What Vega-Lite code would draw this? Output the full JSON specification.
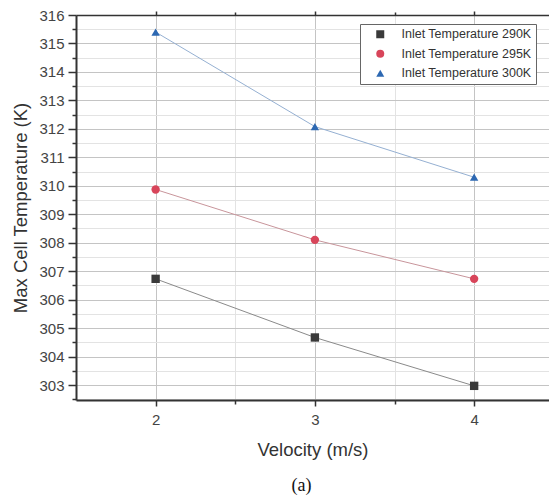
{
  "$schema": "https://vega.github.io/schema/vega-lite/v6.json",
  "width": 473,
  "height": 385,
  "autosize": {"type": "none"},
  "padding": {"left": 76, "top": 15, "right": 0, "bottom": 102},
  "background": "white",
  "title": {"text": "(a)", "orient": "bottom", "anchor": "middle", "font": "Liberation Serif", "fontSize": 18, "fontWeight": "normal", "color": "#111", "offset": 18, "dx": -11},
  "config": {
    "view": {"stroke": null},
    "axis": {
      "domainColor": "#333", "domainWidth": 2, "tickColor": "#333", "tickWidth": 1.5,
      "labelOverlap": false, "tickCount": 60, "tickMinStep": 0.5,
      "labelFont": "Liberation Sans", "labelFontSize": 15, "labelColor": "#444",
      "titleFont": "Liberation Sans", "titleFontSize": 18.5, "titleFontWeight": "normal", "titleColor": "#333"
    }
  },
  "data": {"values": [
    {"series": "Inlet Temperature 290K", "velocity": 2, "temp": 306.73},
    {"series": "Inlet Temperature 290K", "velocity": 3, "temp": 304.67},
    {"series": "Inlet Temperature 290K", "velocity": 4, "temp": 302.97},
    {"series": "Inlet Temperature 295K", "velocity": 2, "temp": 309.87},
    {"series": "Inlet Temperature 295K", "velocity": 3, "temp": 308.1},
    {"series": "Inlet Temperature 295K", "velocity": 4, "temp": 306.73},
    {"series": "Inlet Temperature 300K", "velocity": 2, "temp": 315.4},
    {"series": "Inlet Temperature 300K", "velocity": 3, "temp": 312.08},
    {"series": "Inlet Temperature 300K", "velocity": 4, "temp": 310.3}
  ]},
  "resolve": {"axis": {"x": "independent"}},
  "layer": [
    {
      "mark": {"type": "line", "strokeWidth": 1},
      "encoding": {
        "x": {"field": "velocity", "type": "quantitative",
          "scale": {"domain": [1.5, 4.47], "nice": false, "zero": false},
          "axis": {"orient": "bottom", "values": [2, 2.5, 3, 3.5, 4], "tickCount": 60, "tickMinStep": 0.5,
            "labelExpr": "datum.value % 1 === 0 ? format(datum.value, 'd') : ''",
            "grid": true,
            "gridColor": {"condition": {"test": "datum.value % 1 === 0", "value": "#c4c4c4"}, "value": "#e3e3e3"},
            "tickSize": {"condition": {"test": "datum.value % 1 === 0", "value": 6}, "value": 4},
            "labelPadding": 6, "title": "Velocity (m/s)", "titlePadding": 13}},
        "y": {"field": "temp", "type": "quantitative",
          "scale": {"domain": [302.473, 316], "nice": false, "zero": false},
          "axis": {"values": [302.5, 303, 303.5, 304, 304.5, 305, 305.5, 306, 306.5, 307, 307.5, 308, 308.5, 309, 309.5, 310, 310.5, 311, 311.5, 312, 312.5, 313, 313.5, 314, 314.5, 315, 315.5, 316],
            "tickCount": 60, "tickMinStep": 0.5,
            "labelExpr": "datum.value % 1 === 0 ? format(datum.value, 'd') : ''",
            "grid": true,
            "gridColor": {"condition": {"test": "datum.value % 1 === 0", "value": "#c4c4c4"}, "value": "#e3e3e3"},
            "tickSize": {"condition": {"test": "datum.value % 1 === 0", "value": 8}, "value": 4},
            "labelPadding": 4, "title": "Max Cell Temperature (K)", "titlePadding": 8}},
        "stroke": {"field": "series", "type": "nominal", "scale": {"range": ["#8a8a8a", "#c8959b", "#95b0d2"]}, "legend": null}
      }
    },
    {
      "mark": {"type": "point", "filled": true, "size": 70, "opacity": 1, "strokeWidth": 0},
      "encoding": {
        "x": {"field": "velocity", "type": "quantitative",
          "axis": {"orient": "top", "values": [2, 2.5, 3, 3.5, 4], "labels": false, "title": null, "grid": false,
            "domainWidth": 1.5, "tickCount": 60, "tickMinStep": 0.5,
            "tickSize": {"condition": {"test": "datum.value % 1 === 0", "value": 4}, "value": 3}}},
        "y": {"field": "temp", "type": "quantitative",
          "axis": {"values": [302.5, 303, 303.5, 304, 304.5, 305, 305.5, 306, 306.5, 307, 307.5, 308, 308.5, 309, 309.5, 310, 310.5, 311, 311.5, 312, 312.5, 313, 313.5, 314, 314.5, 315, 315.5, 316],
            "tickCount": 60, "tickMinStep": 0.5,
            "labelExpr": "datum.value % 1 === 0 ? format(datum.value, 'd') : ''",
            "grid": true,
            "gridColor": {"condition": {"test": "datum.value % 1 === 0", "value": "#c4c4c4"}, "value": "#e3e3e3"},
            "tickSize": {"condition": {"test": "datum.value % 1 === 0", "value": 8}, "value": 4},
            "labelPadding": 4, "title": "Max Cell Temperature (K)", "titlePadding": 8}},
        "fill": {"field": "series", "type": "nominal", "scale": {"range": ["#3a3a3a", "#d8455a", "#2d68b2"]},
          "legend": {"title": null, "orient": "none", "legendX": 284, "legendY": 9,
            "labelFont": "Liberation Sans", "labelFontSize": 12.5, "labelColor": "#333",
            "strokeColor": "#666", "fillColor": "white", "padding": 4, "symbolOffset": 10,
            "labelOffset": 15, "rowPadding": 4.5, "symbolSize": 64, "symbolOpacity": 1}},
        "shape": {"field": "series", "type": "nominal", "scale": {"range": ["square", "circle", "triangle-up"]},
          "legend": {"title": null, "orient": "none", "legendX": 284, "legendY": 9,
            "labelFont": "Liberation Sans", "labelFontSize": 12.5, "labelColor": "#333",
            "strokeColor": "#666", "fillColor": "white", "padding": 4, "symbolOffset": 10,
            "labelOffset": 15, "rowPadding": 4.5, "symbolSize": 64, "symbolOpacity": 1}}
      }
    }
  ]
}
